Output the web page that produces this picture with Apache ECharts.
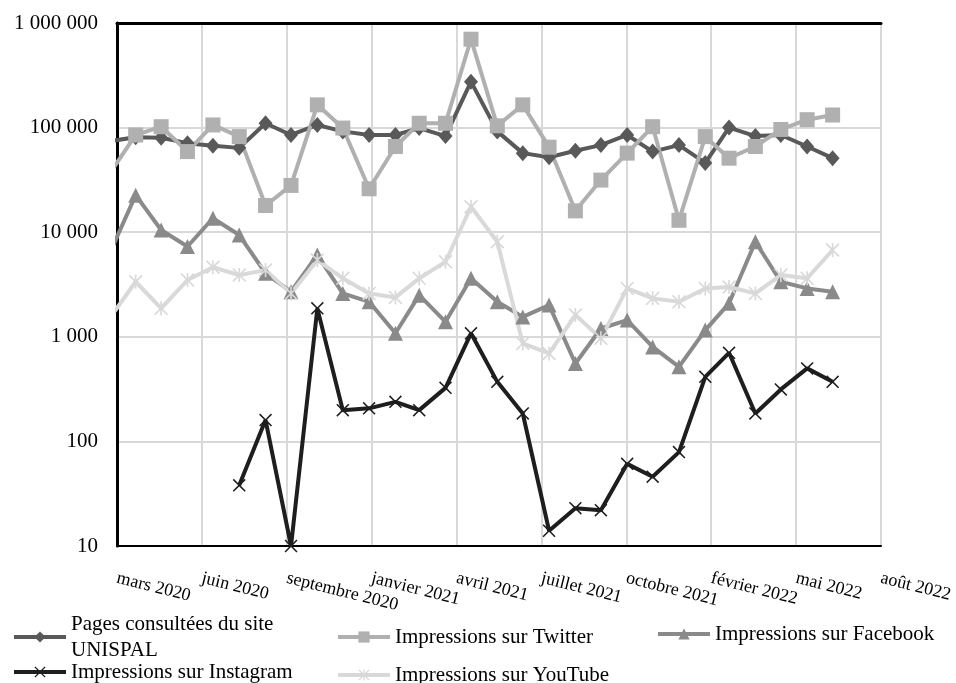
<!DOCTYPE html>
<head>
    <meta charset="utf-8">
    <title>UNISPAL</title>
    <style>
        body { margin: 0; background: #fff; }
    </style>
</head>
<body>
<div id="main" style="width:956px;height:683px"></div>
<script src="https://cdn.jsdelivr.net/npm/echarts@6.0.0/dist/echarts.min.js"></script>
<script type="text/javascript">

    // mois des relevés (1er du mois)
    var months = ['2020-03', '2020-04', '2020-05', '2020-06', '2020-07', '2020-08', '2020-09', '2020-10', '2020-11', '2020-12',
        '2021-01', '2021-02', '2021-03', '2021-04', '2021-05', '2021-06', '2021-07', '2021-08', '2021-09', '2021-10',
        '2021-11', '2021-12', '2022-01', '2022-02', '2022-03', '2022-04', '2022-05', '2022-06', '2022-07'];

    var pages = [74000, 81000, 80000, 71000, 67000, 64000, 110000, 85000, 106000, 92000,
        85000, 85000, 99000, 83000, 275000, 92000, 57000, 52000, 60000, 68000,
        85000, 59000, 68000, 46000, 100000, 83000, 85000, 66000, 51000];
    var twitter = [36000, 85000, 102000, 59000, 106000, 82000, 18000, 28000, 165000, 99000,
        26000, 66000, 110000, 110000, 700000, 104000, 165000, 65000, 16000, 31500,
        57000, 102000, 13000, 82000, 51000, 66000, 96000, 119000, 132000];
    var facebook = [6200, 22600, 10500, 7300, 13600, 9400, 4050, 2700, 6050, 2600,
        2160, 1080, 2500, 1390, 3620, 2160, 1550, 2010, 556, 1200,
        1445, 800, 516, 1160, 2090, 8100, 3360, 2900, 2700];
    var instagram = [null, null, null, null, null, 38, 160, 10, 1870, 199,
        207, 239, 199, 325, 1080, 371, 185, 14, 23, 22,
        61, 46, 79, 414, 703, 185, 314, 499, 371];
    var youtube = [1490, 3360, 1870, 3490, 4620, 3890, 4340, 2600, 5420, 3620,
        2600, 2380, 3620, 5220, 17500, 8100, 865, 693, 1615, 966,
        2900, 2330, 2160, 2900, 2990, 2600, 3890, 3620, 6760];

    var yTicks = [10, 100, 1000, 10000, 100000, 1000000];
    var moisFr = ['janvier', 'février', 'mars', 'avril', 'mai', 'juin', 'juillet', 'août',
        'septembre', 'octobre', 'novembre', 'décembre'];

    // axe des x en jours depuis le 10 mars 2020 (graduation tous les 100 jours)
    var start = Date.UTC(2020, 2, 10);
    var DAY = 86400000;

    function dayOf(m) {
        var p = m.split('-');
        return (Date.UTC(+p[0], +p[1] - 1, 1) - start) / DAY;
    }
    function pairs(vals) {
        var out = [];
        for (var i = 0; i < months.length; i++) {
            out.push([dayOf(months[i]), vals[i]]);
        }
        return out;
    }
    function sep(v) {
        return String(Math.round(v)).replace(/\B(?=(\d{3})+(?!\d))/g, ' ');
    }

    var FONT = '"Liberation Serif", "Times New Roman", serif';
    var crossPath = 'path://M0,1L1,0L6,5L11,0L12,1L7,6L12,11L11,12L6,7L1,12L0,11L5,6Z';
    var starPath = 'path://M0,1L1,0L6,5L11,0L12,1L7,6L12,11L11,12L6,7L1,12L0,11L5,6Z M5.3,0L6.7,0L6.7,12L5.3,12Z';

    var names = ['Pages consultées du site\nUNISPAL', 'Impressions sur Twitter', 'Impressions sur Facebook',
        'Impressions sur Instagram', 'Impressions sur YouTube'];

    function leg(name, left, top) {
        return {
            data: [name],
            left: left,
            top: top,
            orient: 'horizontal',
            itemWidth: 52,
            itemHeight: 14,
            selectedMode: false,
            lineStyle: { width: 4 },
            textStyle: { fontFamily: FONT, fontSize: 21, color: '#000', lineHeight: 26 }
        };
    }

    function serie(name, vals, color, symbol, size) {
        return {
            name: name,
            type: 'line',
            data: pairs(vals),
            symbol: symbol,
            symbolSize: size,
            showAllSymbol: true,
            connectNulls: false,
            lineStyle: { color: color, width: 4 },
            itemStyle: { color: color },
            animation: false
        };
    }

    var myChart = echarts.init(document.getElementById('main'));
    var option = {
        backgroundColor: '#fff',
        grid: {
            left: 117,
            right: 75,
            top: 23,
            bottom: 137
        },
        legend: [
            leg(names[0], 7, 606),
            leg(names[1], 331, 619),
            leg(names[2], 651, 616),
            leg(names[3], 7, 654),
            leg(names[4], 331, 657)
        ],
        xAxis: [{
            type: 'value',
            min: 0,
            max: 900,
            interval: 100,
            axisLine: { show: true, lineStyle: { color: '#000', width: 2 } },
            axisTick: { show: false },
            splitLine: { show: true, lineStyle: { color: '#d9d9d9', width: 2 } },
            axisLabel: {
                rotate: -14,
                margin: 32,
                fontFamily: FONT,
                fontSize: 18,
                color: '#000',
                formatter: function (v) {
                    var d = new Date(start + v * DAY);
                    return moisFr[d.getUTCMonth()] + ' ' + d.getUTCFullYear();
                }
            }
        }, {
            // bord supérieur du cadre
            type: 'value',
            position: 'top',
            min: 0,
            max: 900,
            axisLine: { show: true, lineStyle: { color: '#000', width: 3 } },
            axisTick: { show: false },
            axisLabel: { show: false },
            splitLine: { show: false }
        }],
        yAxis: [{
            type: 'log',
            logBase: 10,
            min: yTicks[0],
            max: yTicks[yTicks.length - 1],
            axisLine: { show: true, lineStyle: { color: '#000', width: 2 } },
            axisTick: { show: false },
            splitLine: { show: true, lineStyle: { color: '#d9d9d9', width: 2 } },
            axisLabel: {
                margin: 19,
                fontFamily: FONT,
                fontSize: 21,
                color: '#000',
                formatter: function (v) { return sep(v); }
            }
        }, {
            // bord droit du cadre
            type: 'value',
            position: 'right',
            min: 0,
            max: 1,
            axisLine: { show: true, lineStyle: { color: '#000', width: 3 } },
            axisTick: { show: false },
            axisLabel: { show: false },
            splitLine: { show: false }
        }],
        series: [
            serie(names[0], pages, '#595959', 'diamond', [14, 16]),
            serie(names[1], twitter, '#b0b0b0', 'rect', 15),
            serie(names[2], facebook, '#8a8a8a', 'triangle', 15),
            serie(names[3], instagram, '#1e1e1e', crossPath, 13),
            serie(names[4], youtube, '#d9d9d9', starPath, 14)
        ]
    };
    myChart.setOption(option);

</script>
</body>
